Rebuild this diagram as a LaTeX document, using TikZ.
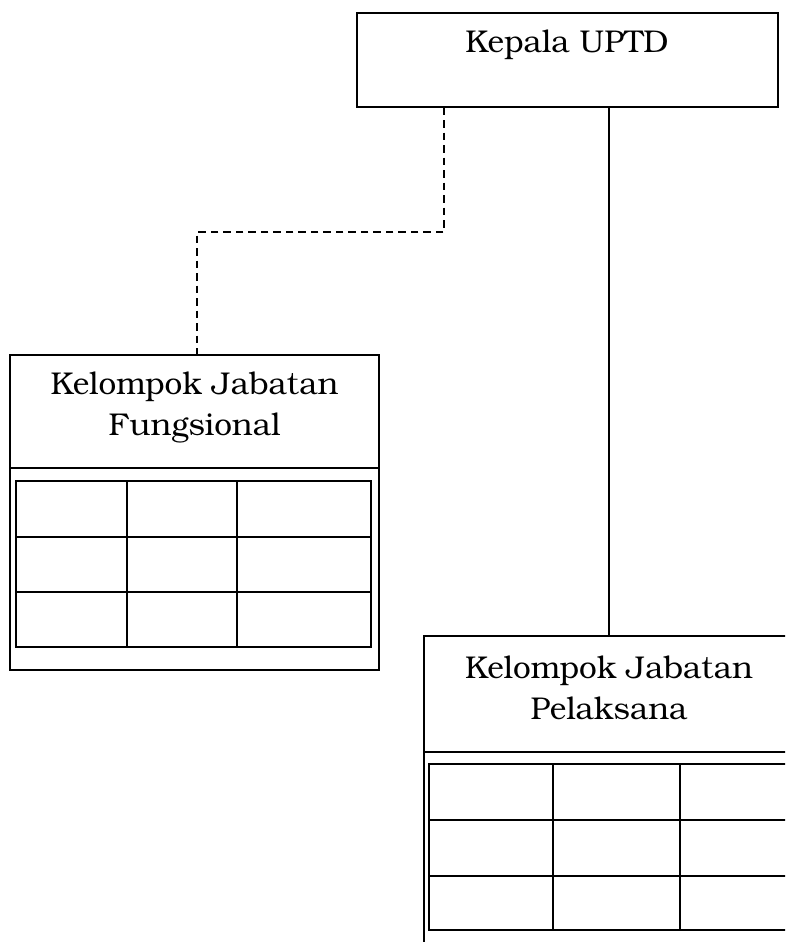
\documentclass[tikz,border=0pt]{standalone}
\usepackage{fontspec}
\setmainfont{TeX Gyre Bonum}
\begin{document}
\begin{tikzpicture}[x=1pt,y=-1pt,
  boxstyle/.style={draw, line width=1.3pt, rectangle, inner sep=0pt},
  txt/.style={font=\fontsize{31.5}{41}\selectfont, align=center, inner sep=0pt},
  gridline/.style={line width=2pt},
  dashline/.style={line width=1.3pt, dash pattern=on 7.5pt off 5pt},
  conn/.style={line width=1.3pt}]
\useasboundingbox (0,0) rectangle (785,942);
\clip (0,0) rectangle (785,942);
% top box
\node[boxstyle, minimum width=421pt, minimum height=94pt] (kepala) at (567.5,60) {};
\node[txt] (kepalatext) at (567,45) {Kepala UPTD};
% Fungsional box
\node[boxstyle, minimum width=369pt, minimum height=315pt] (fung) at (194.5,512.5) {};
\node[txt] (fungtext) at (194.5,407) {Kelompok Jabatan\\Fungsional};
\draw[conn] (fung.west |- 0,468) -- (fung.east |- 0,468);
\draw[gridline] (16,481) rectangle (371,647);
\draw[gridline] (16,537) -- (371,537) (16,592) -- (371,592)
  (127,481) -- (127,647) (237,481) -- (237,647);
% Pelaksana box
\node[boxstyle, minimum width=370pt, minimum height=380pt] (pel) at (609,826) {};
\node[txt] (peltext) at (609,688) {Kelompok Jabatan\\Pelaksana};
\draw[conn] (pel.west |- 0,752) -- (pel.east |- 0,752);
\draw[gridline] (429,764) rectangle (788,930);
\draw[gridline] (429,820) -- (788,820) (429,876) -- (788,876)
  (553,764) -- (553,930) (680,764) -- (680,930);
% connectors
\draw[dashline] (kepala.south -| 444,0) -- (444,232) -| (fung.north -| 197,0);
\draw[conn] (kepala.south -| 609,0) -- (pel.north);
\end{tikzpicture}
\end{document}
